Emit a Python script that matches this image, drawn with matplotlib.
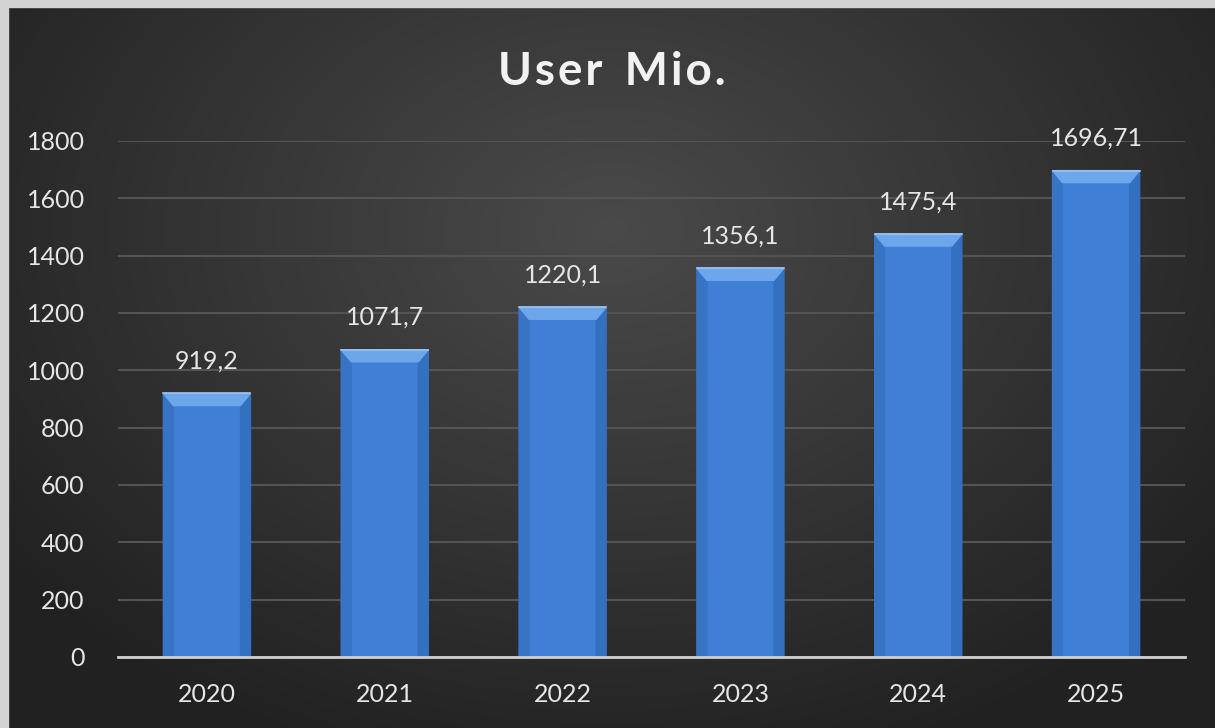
import numpy as np
import matplotlib
matplotlib.use("Agg")
import matplotlib.pyplot as plt
from matplotlib.patches import Polygon, Rectangle

# Nutzerzahlen in Millionen
jahre = ["2020", "2021", "2022", "2023", "2024", "2025"]
user_mio = [919.2, 1071.7, 1220.1, 1356.1, 1475.4, 1696.71]
beschriftung = ["919,2", "1071,7", "1220,1", "1356,1", "1475,4", "1696,71"]
y_ticks = [0, 200, 400, 600, 800, 1000, 1200, 1400, 1600, 1800]
titel = "User Mio."

plt.rcParams['font.family'] = ['Lato', 'DejaVu Sans']

W, H = 1215, 728
fig = plt.figure(figsize=(W / 100, H / 100), dpi=100)

# Hintergrund: dunkler Verlauf, in der Mitte heller
bg = fig.add_axes([0, 0, 1, 1], zorder=-2)
yy, xx = np.mgrid[0:H, 0:W]
r = np.sqrt(((xx - 610) / 760.0) ** 2 + ((yy - 230) / 560.0) ** 2)
grau = np.clip(0.29 - 0.16 * r, 0.13, 0.29)
bg.imshow(np.dstack([grau, grau, grau]), extent=[0, W, H, 0], aspect="auto")
# hellgrauer Rahmen links und oben
bg.add_patch(Rectangle((0, 0), 8, H, color="#d2d2d2"))
bg.add_patch(Rectangle((0, 0), W, 7, color="#d2d2d2"))
bg.set_xlim(0, W)
bg.set_ylim(H, 0)
bg.axis("off")

ax = fig.add_axes([118 / W, 1 - 657 / H, (1185 - 118) / W, (657 - 141) / H])
ax.set_facecolor("none")
ax.set_xlim(-0.5, len(jahre) - 0.5)
ax.set_ylim(0, 1800)

x = np.arange(len(jahre))
breite = 0.49
ax.bar(x, user_mio, width=breite, color="#3f80d6", zorder=3)

# 3D-Kante: hellere Fase oben, etwas dunklere Seiten
px_y = 1800 / 516.0
px_x = 1 / 177.8
for xi, wert in zip(x, user_mio):
    x0, x1 = xi - breite / 2, xi + breite / 2
    h = 12 * px_y
    d = 10 * px_x
    ax.add_patch(Polygon([(x0, wert), (x0 + d, wert - h), (x0 + d, 0), (x0, 0)],
                         closed=True, color="#3774c6", zorder=4))
    ax.add_patch(Polygon([(x1, wert), (x1 - d, wert - h), (x1 - d, 0), (x1, 0)],
                         closed=True, color="#3470c0", zorder=4))
    ax.add_patch(Polygon([(x0, wert), (x1, wert), (x1 - d, wert - h), (x0 + d, wert - h)],
                         closed=True, color="#6ea6ec", zorder=5))
    ax.plot([x0, x1], [wert, wert], color="#9cc4f5", lw=1.2, zorder=6)

for xi, wert, txt in zip(x, user_mio, beschriftung):
    ax.annotate(txt, (xi, wert), xytext=(0, 15), textcoords="offset points",
                ha="center", va="bottom", color="#e6e6e6", fontsize=18)

ax.set_yticks(y_ticks)
ax.set_xticks(x)
ax.set_xticklabels(jahre)
ax.tick_params(axis="both", length=0, colors="#e6e6e6", labelsize=18)
ax.tick_params(axis="y", pad=24)
ax.tick_params(axis="x", pad=19)
ax.grid(axis="y", color="#545454", lw=1.5, zorder=0)
ax.set_axisbelow(True)
for s in ["top", "right", "left"]:
    ax.spines[s].set_visible(False)
ax.spines["bottom"].set_color("#d0d0d0")
ax.spines["bottom"].set_linewidth(2)
ax.spines["bottom"].set_zorder(6)

# Titel mit etwas Zeichenabstand
gesperrt = "  ".join("\u200a".join(wort) for wort in titel.split(" "))
fig.text(612 / W, 1 - 72 / H, gesperrt, ha="center", va="center",
         color="#f2f2f2", fontsize=33, fontweight="bold")

fig.savefig("out.png", dpi=100)
